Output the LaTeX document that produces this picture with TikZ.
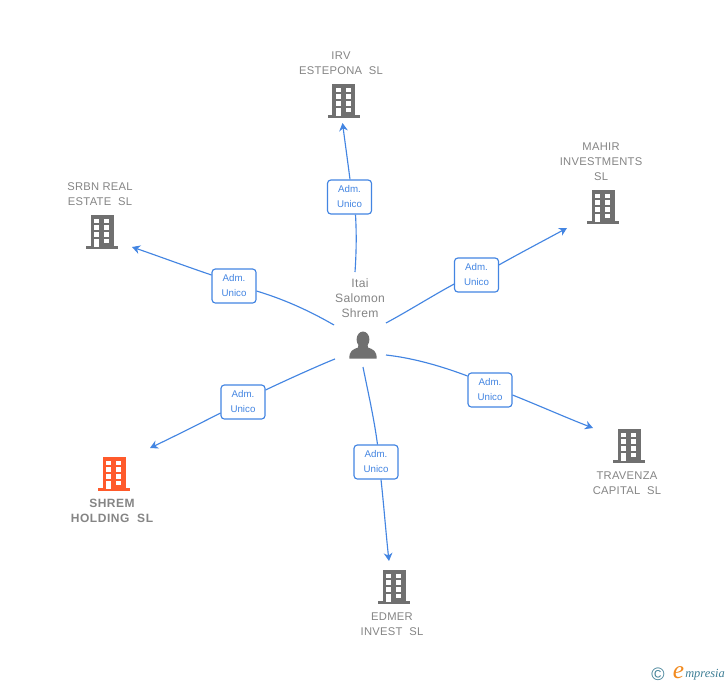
\documentclass[tikz,border=0pt]{standalone}
\usepackage{fontspec}
\setmainfont{Liberation Sans}
\newfontfamily\logofont{Liberation Serif}
\newfontfamily\capfont[LetterSpace=2.5]{Liberation Sans}
\newfontfamily\capboldfont[LetterSpace=4.5]{Liberation Sans Bold}
\usetikzlibrary{arrows.meta}
\definecolor{bluelink}{HTML}{4385E2}
\definecolor{graytxt}{HTML}{858585}
\definecolor{grayicon}{HTML}{707070}
\definecolor{orangeicon}{HTML}{FF5A2B}
\definecolor{teallogo}{HTML}{3F7F96}
\definecolor{orangelogo}{HTML}{F28A1E}
\tikzset{
  x=0.75pt,y=-0.75pt,
  rolebox/.style={draw=bluelink,line width=0.85pt,rounded corners=2.5pt,fill=white,minimum width=33pt,minimum height=25.5pt,inner sep=0pt,align=center,text=bluelink,font=\fontsize{7.3}{11.25}\selectfont},
  caption/.style={align=center,text=graytxt,inner sep=0pt,font=\capfont\fontsize{8.4}{11.25}\selectfont},
  captionbold/.style={caption,font=\capboldfont\fontsize{9}{11.25}\selectfont},
  personcap/.style={caption,font=\capfont\fontsize{9.1}{11.25}\selectfont},
  link/.style={draw=bluelink,line width=0.85pt},
  arrowlink/.style={link,-{Stealth[length=6pt,width=6.5pt]}},
  pics/bld/.style={code={
    \fill[#1] (-11.5,0) rectangle (11.5,32);
    \fill[#1] (-16,31) rectangle (16,34);
    \foreach \r in {3.7,10.3,17,23.7}{\fill[white] (2,\r) rectangle (7,\r+4.6);}
    \foreach \r in {3.7,10.3,17}{\fill[white] (-8,\r) rectangle (-3,\r+4.6);}
    \fill[white] (-8,23.7) rectangle (-3,32);
  }},
  pics/prs/.style={code={
    \fill[#1] (0,-6.5) ellipse [x radius=6.4,y radius=8];
    \fill[#1] (-4.6,-1) -- (4.6,-1) -- (5,1.5) .. controls (10,3.5) and (13.7,4.5) .. (13.7,12.7) -- (-13.7,12.7) .. controls (-13.7,4.5) and (-10,3.5) .. (-5,1.5) -- cycle;
  }}
}
\begin{document}
\begin{tikzpicture}
\useasboundingbox (0,0) rectangle (728,685);
\fill[white] (0,0) rectangle (728,685);
% icons
\pic (irvIcon) at (343.5,84) {bld=grayicon};
\pic (mahirIcon) at (603,190) {bld=grayicon};
\pic (srbnIcon) at (102,215) {bld=grayicon};
\pic (shremIcon) at (114,457) {bld=orangeicon};
\pic (travIcon) at (629,429) {bld=grayicon};
\pic (edmerIcon) at (394,570) {bld=grayicon};
\pic (personIcon) at (363,346) {prs=grayicon};
% captions
\node[caption] (irvCap) at (341,63) {IRV\\ESTEPONA\ \ SL};
\node[caption] (mahirCap) at (601,161.5) {MAHIR\\INVESTMENTS\\SL};
\node[caption] (srbnCap) at (100,194) {SRBN REAL\\ESTATE\ \ SL};
\node[captionbold] (shremCap) at (112,511) {SHREM\\HOLDING\ \ SL};
\node[caption] (travCap) at (627,483) {TRAVENZA\\CAPITAL\ \ SL};
\node[caption] (edmerCap) at (392,624) {EDMER\\INVEST\ \ SL};
\node[personcap] (personCap) at (360,298.5) {Itai\\Salomon\\Shrem};
% role boxes
\node[rolebox] (irvRole) at (349.5,197) {\raisebox{-0.7pt}{Adm.}\\\raisebox{-0.7pt}{Unico}};
\node[rolebox] (mahirRole) at (476.5,275) {\raisebox{-0.7pt}{Adm.}\\\raisebox{-0.7pt}{Unico}};
\node[rolebox] (srbnRole) at (234,286) {\raisebox{-0.7pt}{Adm.}\\\raisebox{-0.7pt}{Unico}};
\node[rolebox] (shremRole) at (243,402) {\raisebox{-0.7pt}{Adm.}\\\raisebox{-0.7pt}{Unico}};
\node[rolebox] (travRole) at (490,390) {\raisebox{-0.7pt}{Adm.}\\\raisebox{-0.7pt}{Unico}};
\node[rolebox] (edmerRole) at (376,462) {\raisebox{-0.7pt}{Adm.}\\\raisebox{-0.7pt}{Unico}};
% connector ends
\coordinate (irvFrom) at (355,272);
\coordinate (irvTip) at (342.5,123);
\coordinate (mahirFrom) at (386,323);
\coordinate (mahirTip) at (567,228);
\coordinate (srbnFrom) at (334,325);
\coordinate (srbnTip) at (132,247);
\coordinate (shremFrom) at (335,359);
\coordinate (shremTip) at (150,448);
\coordinate (travFrom) at (386,355);
\coordinate (travTip) at (593,428);
\coordinate (edmerFrom) at (363,367);
\coordinate (edmerTip) at (389,561);
% connectors
\draw[link] (irvFrom) .. controls (356.5,250) and (356.5,232) .. (355.5,214.6);
\draw[arrowlink] (350,179.4) .. controls (347.5,160) and (345,142) .. (irvTip);
\draw[link] (mahirFrom) .. controls (410,310) and (432,296) .. (454.2,284);
\draw[arrowlink] (498.8,265) .. controls (522,252) and (545,240) .. (mahirTip);
\draw[link] (srbnFrom) .. controls (308,310) and (283,299) .. (256.5,291);
\draw[arrowlink] (211.5,275) .. controls (185,266) and (158,256) .. (srbnTip);
\draw[link] (shremFrom) .. controls (327,362) and (295,376) .. (265.5,390);
\draw[arrowlink] (220.5,413) .. controls (197,425) and (173,437) .. (shremTip);
\draw[link] (travFrom) .. controls (413,358) and (441,366) .. (467.5,376);
\draw[arrowlink] (512.5,395) .. controls (540,406) and (567,418) .. (travTip);
\draw[link] (edmerFrom) .. controls (368,392) and (374,418) .. (377.5,444.5);
\draw[arrowlink] (381,479.5) .. controls (384,507) and (386,534) .. (edmerTip);
% logo
\node[inner sep=0pt,text=teallogo,font=\fontsize{13.5}{13.5}\selectfont] (logoC) at (658,674) {©};
\node[inner sep=0pt,text=orangelogo,font=\logofont\itshape\fontsize{19}{19}\selectfont] (logoE) at (678.5,672.5) {e};
\node[inner sep=0pt,anchor=west,text=teallogo,font=\logofont\itshape\fontsize{9.3}{12}\selectfont] (logoT) at (685,674.5) {mpresia};
\end{tikzpicture}
\end{document}
